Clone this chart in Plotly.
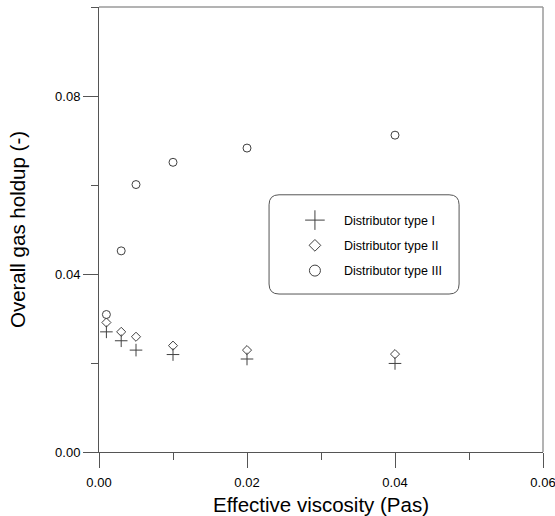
import plotly.graph_objects as go

viscosity = [0.001, 0.003, 0.005, 0.01, 0.02, 0.04]
holdup_type1 = [0.027, 0.025, 0.0229, 0.0219, 0.0209, 0.0199]
holdup_type2 = [0.0291, 0.027, 0.0259, 0.0239, 0.0229, 0.022]
holdup_type3 = [0.0309, 0.0452, 0.0601, 0.0651, 0.0683, 0.0712]
series_names = ["Distributor type I", "Distributor type II", "Distributor type III"]

mk_color = "#404040"
fig = go.Figure()

styles = [
    dict(symbol="cross-thin-open", size=9, lsize=14),
    dict(symbol="diamond-open", size=7, lsize=9),
    dict(symbol="circle-open", size=8, lsize=11),
]
for name, ys, st in zip(series_names, [holdup_type1, holdup_type2, holdup_type3], styles):
    fig.add_trace(go.Scatter(
        x=viscosity, y=ys, mode="markers", showlegend=False,
        marker=dict(symbol=st["symbol"], size=st["size"], color=mk_color,
                    line=dict(color=mk_color, width=1)),
    ))
    # legend entry (larger symbol, no data drawn)
    fig.add_trace(go.Scatter(
        x=[None], y=[None], mode="markers", name=name, legendgroup=name,
        marker=dict(symbol=st["symbol"], size=st["lsize"], color=mk_color,
                    line=dict(color=mk_color, width=1)),
    ))

axis_common = dict(
    showline=True, linecolor="#555555", linewidth=1,
    ticks="outside", ticklen=15, tickwidth=1, tickcolor="#555555",
    showgrid=False, zeroline=False, automargin=False,
    ticklabeloverflow="allow",
    tickfont=dict(family="Liberation Sans, Arial", size=13, color="#000000"),
)

fig.update_xaxes(
    range=[0, 0.0600001], tick0=0, dtick=0.02, tickformat=".2f",
    ticklabelstandoff=3,
    minor=dict(dtick=0.01, ticks="outside", ticklen=7, tickcolor="#555555", showgrid=False),
    title=dict(text="Effective viscosity (Pas)", font=dict(family="Liberation Sans, Arial", size=20.5, color="#000000"), standoff=13),
    **axis_common,
)
fig.update_yaxes(
    range=[0, 0.1000001], tick0=0, dtick=0.04, tickformat=".2f",
    minor=dict(dtick=0.02, ticks="outside", ticklen=7, tickcolor="#555555", showgrid=False),
    title=dict(text="Overall gas holdup (-)", font=dict(family="Liberation Sans, Arial", size=20.5, color="#000000"), standoff=23),
    **axis_common,
)

# top and right frame lines
fig.add_shape(type="line", xref="x domain", yref="y domain", x0=0, x1=1, y0=1, y1=1,
              line=dict(color="#9a9a9a", width=1.5))
fig.add_shape(type="line", xref="x domain", yref="y domain", x0=1, x1=1, y0=0, y1=1,
              line=dict(color="#9a9a9a", width=1.5))

# rounded legend box
x0, x1, y0, y1, r = 0.383, 0.811, 0.355, 0.578, 0.0225
path = (f"M {x0+r},{y0} L {x1-r},{y0} Q {x1},{y0} {x1},{y0+r} L {x1},{y1-r} "
        f"Q {x1},{y1} {x1-r},{y1} L {x0+r},{y1} Q {x0},{y1} {x0},{y1-r} "
        f"L {x0},{y0+r} Q {x0},{y0} {x0+r},{y0} Z")
fig.add_shape(type="path", xref="paper", yref="paper", path=path,
              line=dict(color="#555555", width=1))

fig.update_layout(
    width=555, height=516,
    margin=dict(l=99, r=12, t=7, b=64, autoexpand=False),
    paper_bgcolor="white", plot_bgcolor="white",
    font=dict(family="Liberation Sans, Arial", color="#000000"),
    legend=dict(x=0.421, y=0.554, xanchor="left", yanchor="top",
                bgcolor="rgba(0,0,0,0)", borderwidth=0,
                font=dict(size=12.5, family="Liberation Sans, Arial"),
                itemwidth=48, tracegroupgap=6),
)

fig.write_html("out.html", config={"displayModeBar": False},
               post_script="document.body.style.margin='0';document.body.style.overflow='hidden';")
